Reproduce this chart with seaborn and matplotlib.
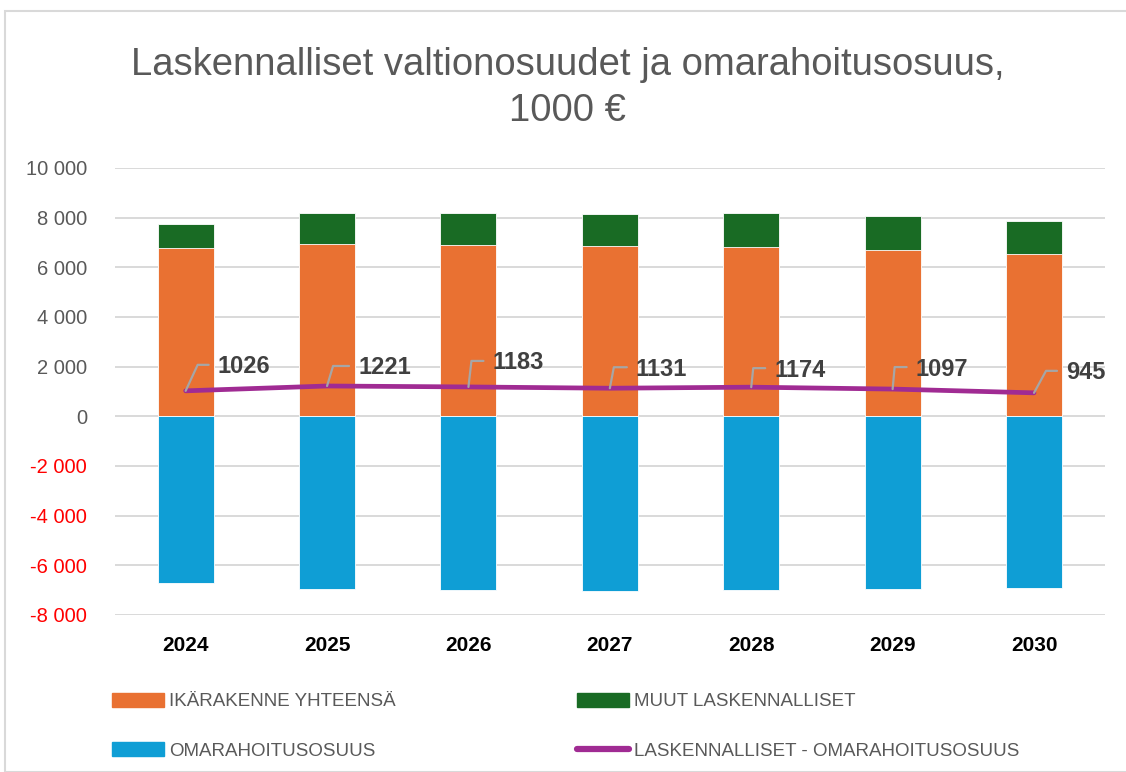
import numpy as np
import pandas as pd
import matplotlib
matplotlib.use("Agg")
import matplotlib.pyplot as plt
import matplotlib.transforms as mtransforms
from matplotlib.patches import Patch, Rectangle
from matplotlib.lines import Line2D
import seaborn as sns

years = ["2024", "2025", "2026", "2027", "2028", "2029", "2030"]
ikarakenne = [6790, 6950, 6900, 6840, 6830, 6710, 6520]
muut = [960, 1240, 1290, 1310, 1350, 1360, 1350]
omarahoitus = [-6724, -6969, -7007, -7019, -7006, -6973, -6925]
netto = [1026, 1221, 1183, 1131, 1174, 1097, 945]
yticks = [-8000, -6000, -4000, -2000, 0, 2000, 4000, 6000, 8000, 10000]

# leader line offsets for the data labels, in pixels: corner x, y, text x
label_offsets = [(12, 26, 32), (6, 20, 31), (3, 26, 24), (4, 21, 26),
                 (2, 19, 23), (2, 22, 23), (12, 22, 32)]

c_orange = "#E97132"
c_green = "#196B24"
c_blue = "#0F9ED5"
c_purple = "#A02B93"
c_grey = "#595959"

sns.set_style("white")
plt.rcParams["font.family"] = ["Liberation Sans", "DejaVu Sans"]

df = pd.DataFrame({"vuosi": years, "ika": ikarakenne, "muut": muut,
                   "omara": omarahoitus, "netto": netto})
df["yht"] = df["ika"] + df["muut"]

fig = plt.figure(figsize=(11.26, 7.72), dpi=100)
ax = fig.add_axes([0.1021, 0.2034, 0.879, 0.5790])

bar_kw = dict(width=0.396, edgecolor="white", linewidth=0.6, saturation=1, ax=ax)
sns.barplot(data=df, x="vuosi", y="yht", color=c_green, **bar_kw)
sns.barplot(data=df, x="vuosi", y="ika", color=c_orange, **bar_kw)
sns.barplot(data=df, x="vuosi", y="omara", color=c_blue, **bar_kw)

pos = np.arange(len(years))
sns.lineplot(x=pos, y=df["netto"], color=c_purple, linewidth=3.4, ax=ax,
             solid_capstyle="round")

for x, v, (cx, cy, tx) in zip(pos, netto, label_offsets):
    tr = fig.dpi_scale_trans + mtransforms.ScaledTranslation(x, v, ax.transData)
    ax.add_line(Line2D([0, cx / 100, (tx - 9) / 100], [0, cy / 100, cy / 100],
                       transform=tr, color="#A6A6A6", lw=1.6, clip_on=False))
    ax.text(tx / 100, (cy - 8.5) / 100, str(v), transform=tr, ha="left",
            va="baseline", fontsize=17, fontweight="bold", color="#404040")

ax.set_ylim(-8000, 10000)
ax.set_xlim(-0.5, len(years) - 0.5)
ax.set_yticks(yticks)
ax.set_yticklabels([f"{t:,}".replace(",", " ") for t in yticks])
for lab, t in zip(ax.get_yticklabels(), yticks):
    lab.set_color("red" if t < 0 else c_grey)
ax.tick_params(axis="y", length=0, pad=20, labelsize=14.5)
ax.tick_params(axis="x", length=0, pad=15, labelsize=15)
for lab in ax.get_xticklabels():
    lab.set_fontweight("bold")
    lab.set_color("black")
ax.set_xlabel("")
ax.set_ylabel("")
ax.grid(axis="y", color="#D9D9D9", linewidth=1.4)
ax.set_axisbelow(True)
sns.despine(ax=ax, left=True, bottom=True)

fig.text(0.504, 0.886, "Laskennalliset valtionosuudet ja omarahoitusosuus,\n1000 €",
         ha="center", va="center", fontsize=27.5, color=c_grey, linespacing=1.36)

leg_kw = dict(frameon=False, fontsize=13.5, labelcolor=c_grey, handlelength=2.77,
              handleheight=0.75, handletextpad=0.27, labelspacing=1.7,
              borderpad=0, borderaxespad=0, loc="upper left")
leg1 = fig.legend(handles=[Patch(color=c_orange, label="IKÄRAKENNE YHTEENSÄ"),
                           Patch(color=c_blue, label="OMARAHOITUSOSUUS")],
                  bbox_to_anchor=(112 / 1126, 1 - 693 / 772), **leg_kw)
leg2 = fig.legend(handles=[Patch(color=c_green, label="MUUT LASKENNALLISET"),
                           Line2D([], [], color=c_purple, lw=4.5, solid_capstyle="round",
                                  label="LASKENNALLISET - OMARAHOITUSOSUUS")],
                  bbox_to_anchor=(577 / 1126, 1 - 693 / 772), **leg_kw)

fig.patches.append(Rectangle((5 / 1126, 0), 1.0, 1 - 11 / 772,
                             transform=fig.transFigure, fill=False,
                             edgecolor="#D9D9D9", linewidth=1.5))

fig.savefig("out.png", dpi=100)
